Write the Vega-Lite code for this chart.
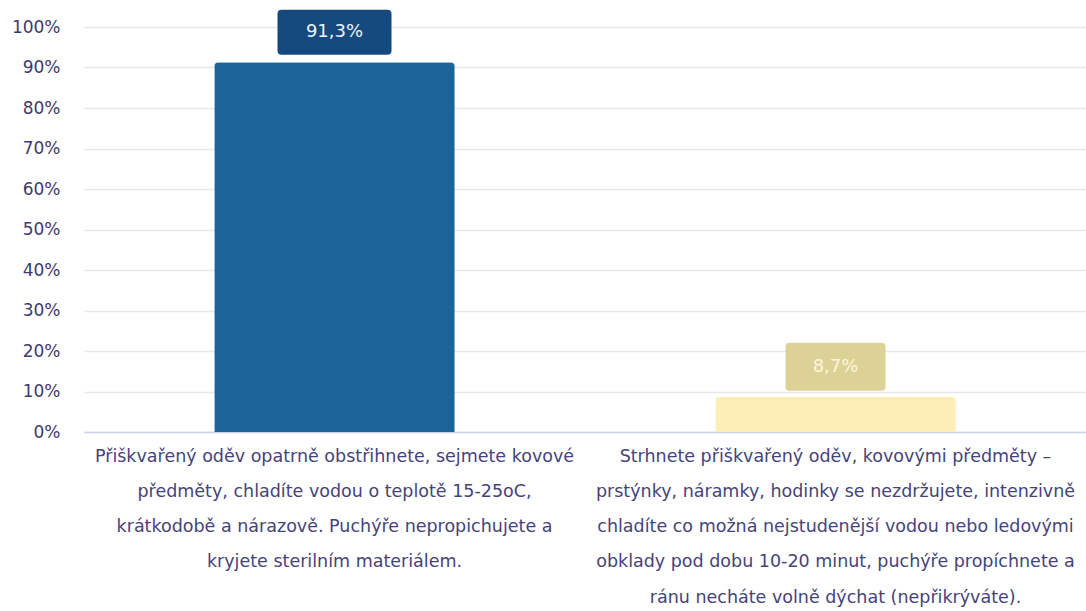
{
  "$schema": "https://vega.github.io/schema/vega-lite/v6.json",
  "width": 1002,
  "height": 405,
  "autosize": {"type": "none"},
  "padding": {"left": 84, "top": 27, "right": 0, "bottom": 179},
  "background": "#ffffff",
  "config": {
    "view": {"stroke": null},
    "locale": {"number": {"decimal": ",", "thousands": " ", "grouping": [3], "currency": ["", " Kč"]}},
    "font": "DejaVu Sans"
  },
  "data": {
    "values": [
      {"id": 1, "answer": "Přiškvařený oděv opatrně obstřihnete, sejmete kovové\npředměty, chladíte vodou o teplotě 15-25oC,\nkrátkodobě a nárazově. Puchýře nepropichujete a\nkryjete sterilním materiálem.", "share": 0.913},
      {"id": 2, "answer": "Strhnete přiškvařený oděv, kovovými předměty –\nprstýnky, náramky, hodinky se nezdržujete, intenzivně\nchladíte co možná nejstudenější vodou nebo ledovými\nobklady pod dobu 10-20 minut, puchýře propíchnete a\nránu necháte volně dýchat (nepřikrýváte).", "share": 0.087}
    ]
  },
  "encoding": {
    "x": {
      "field": "answer",
      "type": "nominal",
      "sort": null,
      "scale": {"paddingInner": 0, "paddingOuter": 0},
      "axis": {
        "title": null,
        "labelAngle": 0,
        "labelExpr": "split(datum.value, '\\n')",
        "labelLineHeight": 35.3,
        "labelFontSize": 17.5,
        "labelColor": "#46437a",
        "labelPadding": 15,
        "labelLimit": 1000,
        "ticks": false,
        "domainColor": "#cdd2ee",
        "domainWidth": 1.5
      }
    },
    "y": {
      "field": "share",
      "type": "quantitative",
      "scale": {"domain": [0, 1], "nice": false},
      "axis": {
        "title": null,
        "format": ".0%",
        "values": [0, 0.1, 0.2, 0.3, 0.4, 0.5, 0.6, 0.7, 0.8, 0.9, 1],
        "labelFontSize": 17,
        "labelColor": "#3d3a70",
        "labelPadding": 24,
        "ticks": false,
        "domain": false,
        "gridColor": "#e8e8e8",
        "gridWidth": 1.5
      }
    }
  },
  "layer": [
    {
      "mark": {"type": "bar", "width": {"band": 0.48}, "cornerRadiusTopLeft": 4, "cornerRadiusTopRight": 4},
      "encoding": {
        "color": {"condition": {"test": "datum.id == 1", "value": "#1c6399"}, "value": "#fdedb7"}
      }
    },
    {
      "mark": {"type": "point", "filled": true, "opacity": 1, "strokeWidth": 0, "size": 12996, "yOffset": -30},
      "encoding": {
        "shape": {
          "field": "id",
          "type": "nominal",
          "legend": null,
          "scale": {
            "domain": [1, 2],
            "range": [
              "M-0.93,-0.395 L0.93,-0.395 Q1,-0.395 1,-0.325 L1,0.325 Q1,0.395 0.93,0.395 L-0.93,0.395 Q-1,0.395 -1,0.325 L-1,-0.325 Q-1,-0.395 -0.93,-0.395 Z",
              "M-0.807,-0.421 L0.807,-0.421 Q0.877,-0.421 0.877,-0.351 L0.877,0.351 Q0.877,0.421 0.807,0.421 L-0.807,0.421 Q-0.877,0.421 -0.877,0.351 L-0.877,-0.351 Q-0.877,-0.421 -0.807,-0.421 Z"
            ]
          }
        },
        "color": {"condition": {"test": "datum.id == 1", "value": "#154a7f"}, "value": "#dcd296"}
      }
    },
    {
      "mark": {"type": "text", "fontSize": 18, "baseline": "middle", "align": "center", "yOffset": -30},
      "encoding": {
        "text": {"field": "share", "type": "quantitative", "format": ".1%"},
        "color": {"condition": {"test": "datum.id == 1", "value": "#eef2f7"}, "value": "#fbf5df"}
      }
    }
  ]
}
